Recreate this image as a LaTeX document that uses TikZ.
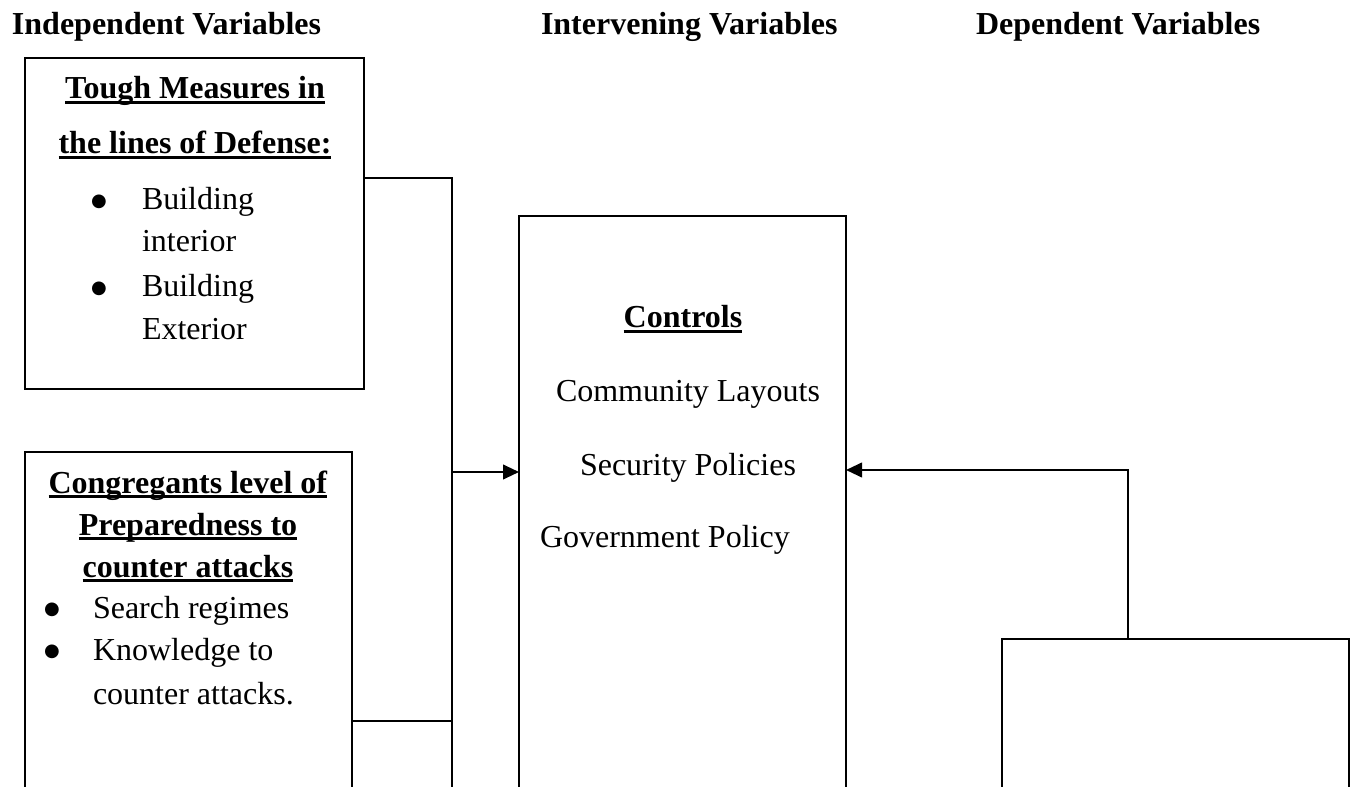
\documentclass[tikz,border=0pt]{standalone}
\usepackage{fontspec}
\setmainfont{Liberation Serif}
\newfontfamily\bulfont{DejaVu Sans}
\usetikzlibrary{arrows.meta,calc}
\newsavebox\myulbox
\newcommand{\hul}[1]{\sbox\myulbox{\textbf{#1}}\rlap{\rule[-3.6pt]{\wd\myulbox}{1.8pt}}\usebox\myulbox}
\begin{document}
\begin{tikzpicture}[x=0.75pt,y=-0.75pt,
  box/.style={draw, line width=0.8pt, inner sep=0pt, outer sep=0pt, anchor=north west},
  conn/.style={line width=1.5pt},
  arr/.style={conn, -{Triangle[length=12pt,width=11pt]}},
  txt/.style={inner sep=0pt, outer sep=0pt, font=\fontsize{24}{28}\selectfont},
  ctr/.style={txt, anchor=base},
  lft/.style={txt, anchor=base west},
  ttl/.style={txt, anchor=base west, font=\fontsize{24}{28}\selectfont\bfseries},
  bul/.style={txt, anchor=base, yshift=2.5pt, font=\bulfont\fontsize{13.5}{16}\selectfont}]
\useasboundingbox (0,0) rectangle (1351,787);
\clip (0,0) rectangle (1351,787);

% titles
\node[ttl] (t1) at (12,35) {Independent Variables};
\node[ttl] (t2) at (541,35) {Intervening Variables};
\node[ttl] (t3) at (976,35) {Dependent Variables};

% boxes
\node[box, minimum width=254.25pt, minimum height=248.25pt] (b1) at (25,58) {};
\node[box, minimum width=245.25pt, minimum height=276pt] (b2) at (25,452) {};
\node[box, minimum width=245.25pt, minimum height=453pt] (b3) at (519,216) {};
\node[box, minimum width=260.25pt, minimum height=135.75pt] (b4) at (1002,639) {};

% box 1 text
\node[ctr] (h1a) at (195,99) {\hul{Tough Measures in}};
\node[ctr] (h1b) at (195,154) {\hul{the lines of Defense:}};
\node[bul] (d1a) at (99,210) {●};
\node[lft] (l1a) at (142,210) {Building};
\node[lft] (l1b) at (142,252) {interior};
\node[bul] (d1b) at (99,297) {●};
\node[lft] (l1c) at (142,297) {Building};
\node[lft] (l1d) at (142,340) {Exterior};

% box 2 text
\node[ctr] (h2a) at (188,493) {\hul{Congregants level of}};
\node[ctr] (h2b) at (188,535) {\hul{Preparedness to}};
\node[ctr] (h2c) at (188,577) {\hul{counter attacks}};
\node[bul] (d2a) at (52,618) {●};
\node[lft] (l2a) at (93,618) {Search regimes};
\node[bul] (d2b) at (52,660) {●};
\node[lft] (l2b) at (93,660) {Knowledge to};
\node[lft] (l2c) at (93,704) {counter attacks.};

% box 3 text
\node[ctr] (h3) at (683,328) {\hul{Controls}};
\node[lft] (l3a) at (556,402) {Community Layouts};
\node[lft] (l3b) at (580,475) {Security Policies};
\node[lft] (l3c) at (540,547) {Government Policy};

% connectors
\coordinate (j1) at (452,178);
\coordinate (jb) at (452,800);
\coordinate (j2) at (452,721);
\coordinate (jm) at (452,472);
\coordinate (r1) at (1128,470);
\draw[conn] (b1.east |- j1) -- (j1) -- (jb);
\draw[conn] (b2.east |- j2) -- (j2);
\draw[arr] (jm) -- (b3.west |- jm);
\draw[arr] (b4.north -| r1) -- (r1) -- (b3.east |- r1);
\end{tikzpicture}
\end{document}
